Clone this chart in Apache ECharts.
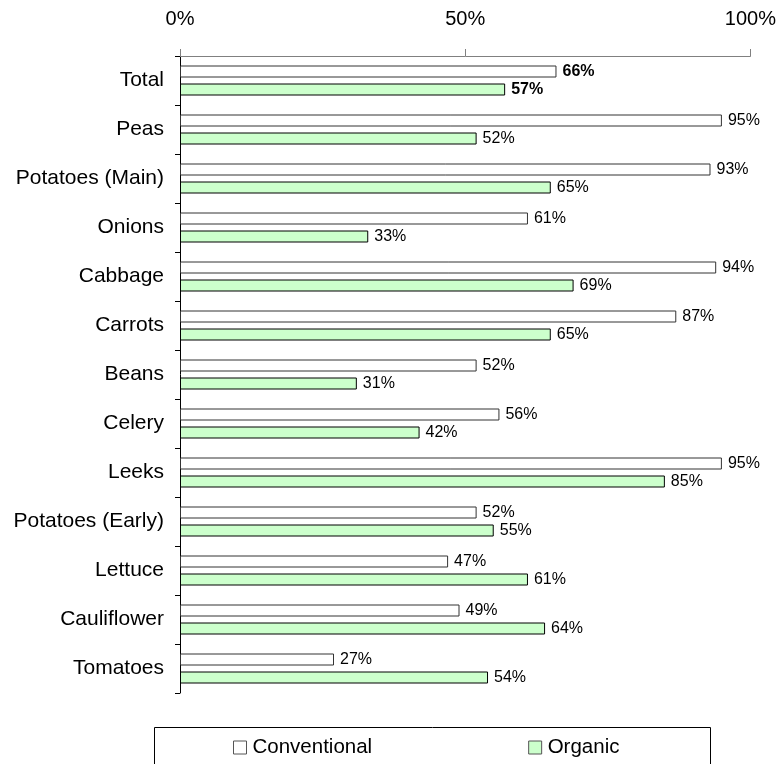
<!DOCTYPE html>
<html>
<head>
<meta charset="utf-8">
<script src="https://cdn.jsdelivr.net/npm/echarts@6/dist/echarts.min.js"></script>
<style>
  html, body { margin: 0; padding: 0; background: #fff; }
  #chart { width: 779px; height: 764px; }
</style>
</head>
<body>
<div id="chart"></div>
<script>
// Share of samples per crop, conventional vs organic
const categories = ['Total', 'Peas', 'Potatoes (Main)', 'Onions', 'Cabbage', 'Carrots', 'Beans',
  'Celery', 'Leeks', 'Potatoes (Early)', 'Lettuce', 'Cauliflower', 'Tomatoes'];
const conventional = [66, 95, 93, 61, 94, 87, 52, 56, 95, 52, 47, 49, 27];
const organic = [57, 52, 65, 33, 69, 65, 31, 42, 85, 55, 61, 64, 54];
const xTicks = [0, 50, 100];

const FONT = '"Liberation Sans", Arial, sans-serif';

const valueLabel = {
  show: true,
  position: 'right',
  distance: 6,
  color: '#000',
  fontFamily: FONT,
  fontSize: 16,
  formatter: p => p.value + '%'
};

// the "Total" row gets bold value labels
function seriesData(values) {
  return values.map((v, i) => i === 0
    ? { value: v, label: { fontWeight: 'bold' } }
    : { value: v });
}

const chart = echarts.init(document.getElementById('chart'), null, { renderer: 'canvas' });
chart.setOption({
  animation: false,
  backgroundColor: '#fff',
  grid: { left: 180, right: 28, top: 56, bottom: 71, containLabel: false },
  xAxis: {
    type: 'value',
    position: 'top',
    min: xTicks[0],
    max: xTicks[xTicks.length - 1],
    interval: xTicks[1] - xTicks[0],
    axisLine: { show: true, lineStyle: { color: '#808080', width: 1 } },
    axisTick: { show: true, length: 7, lineStyle: { color: '#808080' } },
    splitLine: { show: false },
    axisLabel: {
      color: '#000', fontFamily: FONT, fontSize: 20, margin: 27,
      formatter: v => v + '%'
    }
  },
  yAxis: {
    type: 'category',
    data: categories,
    inverse: true,
    axisLine: { show: true, lineStyle: { color: '#000', width: 1 } },
    axisTick: { show: true, length: 5, lineStyle: { color: '#000' } },
    axisLabel: { color: '#000', fontFamily: FONT, fontSize: 21, margin: 16 }
  },
  legend: {
    data: ['Conventional', 'Organic'],
    left: 233,
    top: 737,
    orient: 'horizontal',
    padding: 0,
    itemGap: 156,
    itemWidth: 13,
    itemHeight: 13,
    icon: 'rect',
    itemStyle: { borderColor: '#555', borderWidth: 1 },
    textStyle: { color: '#000', fontFamily: FONT, fontSize: 20.5, padding: [0, 0, 0, 1] }
  },
  graphic: [{
    type: 'rect',
    shape: { x: 154.5, y: 727.5, width: 556, height: 60 },
    style: { fill: 'none', stroke: '#000', lineWidth: 1 },
    silent: true
  }],
  series: [
    {
      name: 'Conventional',
      type: 'bar',
      data: seriesData(conventional),
      barWidth: 12,
      barGap: '50%',
      itemStyle: { color: '#ffffff', borderColor: '#333', borderWidth: 1 },
      label: valueLabel
    },
    {
      name: 'Organic',
      type: 'bar',
      data: seriesData(organic),
      barWidth: 12,
      barGap: '50%',
      itemStyle: { color: '#ccffcc', borderColor: '#000', borderWidth: 1 },
      label: valueLabel
    }
  ]
});
</script>
</body>
</html>
